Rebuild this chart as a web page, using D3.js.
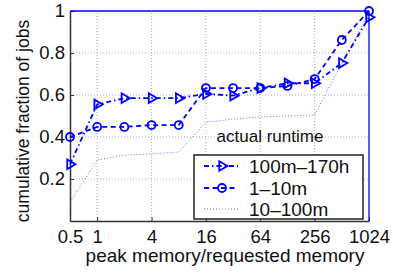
<!DOCTYPE html>
<html>
<head>
<meta charset="utf-8">
<script src="https://cdn.jsdelivr.net/npm/d3@7"></script>
<style>
  body { margin: 0; background: #fff; }
  svg { display: block; font-family: "Liberation Sans", Arial, sans-serif; }
</style>
</head>
<body>
<svg id="chart"></svg>
<script>
// peak memory / requested memory ratios (log2 axis)
const ratios = [0.5, 1, 2, 4, 8, 16, 32, 64, 128, 256, 512, 1024];
const xTicks = [0.5, 1, 4, 16, 64, 256, 1024];
const yTicks = [0.2, 0.4, 0.6, 0.8, 1];

// cumulative fraction of jobs per runtime class
const long = [0.27, 0.555, 0.585, 0.585, 0.585, 0.605, 0.597, 0.633, 0.656, 0.656, 0.752, 0.97];
const short = [0.40, 0.448, 0.448, 0.457, 0.457, 0.633, 0.633, 0.633, 0.643, 0.676, 0.862, 1.0];
const medium = [0.09, 0.29, 0.314, 0.32, 0.328, 0.47, 0.485, 0.495, 0.50, 0.505, 0.75, 0.99];

const seriesNames = ['100m\u2013170h', '1\u201310m', '10\u2013100m'];

function makeChart() {
	let w = 393;
	let h = 274;
	let m = {left: 70, right: 24, top: 11, bottom: 53};

	let svg = d3.select('#chart')
		.attr('width', w)
		.attr('height', h);

	let x = d3.scaleLog().base(2)
		.domain([0.5, 1024])
		.range([m.left, w - m.right]);
	let y = d3.scaleLinear()
		.domain([0, 1])
		.range([h - m.bottom, m.top]);

	// dotted grid
	svg.append('g').selectAll('line')
		.data(xTicks.slice(1, -1))
		.enter().append('line')
		.attr('x1', d => x(d)).attr('x2', d => x(d))
		.attr('y1', y(0)).attr('y2', y(1))
		.style('stroke', '#aaa').style('stroke-dasharray', '1,2');
	svg.append('g').selectAll('line')
		.data(yTicks.slice(0, -1))
		.enter().append('line')
		.attr('x1', x(0.5)).attr('x2', x(1024))
		.attr('y1', d => y(d)).attr('y2', d => y(d))
		.style('stroke', '#aaa').style('stroke-dasharray', '1,2');

	// axes
	let xAxis = svg.append('g')
		.attr('transform', `translate(0,${y(0)})`)
		.call(d3.axisBottom(x).tickValues(xTicks).tickFormat(d3.format('')).tickSizeInner(-4).tickSizeOuter(0).tickPadding(9));
	let yAxis = svg.append('g')
		.attr('transform', `translate(${x(0.5)},0)`)
		.call(d3.axisLeft(y).tickValues(yTicks).tickFormat(d => d === 1 ? '1' : d3.format('.1f')(d)).tickSizeInner(-4).tickSizeOuter(0).tickPadding(5));
	[xAxis, yAxis].forEach(a => {
		a.select('.domain').style('stroke', '#333').style('stroke-width', 1.5);
		a.selectAll('.tick line').style('stroke', '#333');
		a.selectAll('text').style('font-size', '18.5px').style('fill', '#111').style('font-family', '"Liberation Sans", Arial, sans-serif');
	});

	// blue top and right frame
	svg.append('line')
		.attr('x1', x(0.5)).attr('x2', x(1024)).attr('y1', y(1)).attr('y2', y(1))
		.style('stroke', '#0000ff').style('stroke-width', 1.3);
	svg.append('line')
		.attr('x1', x(1024)).attr('x2', x(1024)).attr('y1', y(1)).attr('y2', y(0))
		.style('stroke', '#0000ff').style('stroke-width', 1.3);

	let line = d3.line()
		.x((d, i) => x(ratios[i]))
		.y(d => y(d));

	// 10-100m dotted
	svg.append('path')
		.attr('d', line(medium))
		.style('fill', 'none').style('stroke', '#6b6bff').style('stroke-width', 1)
		.style('stroke-dasharray', '1,2');

	// 1-10m dashed with circles
	svg.append('path')
		.attr('d', line(short))
		.style('fill', 'none').style('stroke', '#0000ff').style('stroke-width', 1.8)
		.style('stroke-dasharray', '5,3.5');
	svg.append('g').selectAll('circle')
		.data(short)
		.enter().append('circle')
		.attr('cx', (d, i) => x(ratios[i]))
		.attr('cy', d => y(d))
		.attr('r', 4)
		.style('fill', 'none').style('stroke', '#0000ff').style('stroke-width', 1.8);

	// 100m-170h dash-dot with triangles
	svg.append('path')
		.attr('d', line(long))
		.style('fill', 'none').style('stroke', '#0000ff').style('stroke-width', 1.8)
		.style('stroke-dasharray', '5,3,1.5,3');
	let tri = d3.symbol().type(d3.symbolTriangle).size(40);
	svg.append('g').selectAll('path')
		.data(long)
		.enter().append('path')
		.attr('d', tri)
		.attr('transform', (d, i) => `translate(${x(ratios[i])},${y(d)}) rotate(90)`)
		.style('fill', 'none').style('stroke', '#0000ff').style('stroke-width', 1.8);

	// axis labels
	svg.append('text')
		.attr('x', 225).attr('y', 262)
		.attr('text-anchor', 'middle')
		.style('font-size', '19px').style('fill', '#111')
		.text('peak memory/requested memory');
	svg.append('text')
		.attr('transform', 'translate(29,121) rotate(-90)')
		.attr('text-anchor', 'middle')
		.style('font-size', '17.5px').style('fill', '#111')
		.text('cumulative fraction of jobs');

	// legend
	svg.append('text')
		.attr('x', 270).attr('y', 142)
		.attr('text-anchor', 'middle')
		.style('font-size', '17px').style('fill', '#111')
		.text('actual runtime');

	let lg = svg.append('g');
	lg.append('rect')
		.attr('x', 194).attr('y', 155).attr('width', 169).attr('height', 64)
		.style('fill', '#fff').style('stroke', '#222').style('stroke-width', 1.5);
	let rows = [166, 188, 209];
	let dashes = ['5,3,1.5,3', '5,3.5', '1,2'];
	let widths = [1.8, 1.8, 1];
	let colors = ['#0000ff', '#0000ff', '#6b6bff'];
	rows.forEach((ry, i) => {
		lg.append('line')
			.attr('x1', 204).attr('x2', 238).attr('y1', ry).attr('y2', ry)
			.style('stroke', colors[i]).style('stroke-width', widths[i])
			.style('stroke-dasharray', dashes[i]);
		if (i === 0) {
			lg.append('path').attr('d', tri)
				.attr('transform', `translate(222,${ry}) rotate(90)`)
				.style('fill', 'none').style('stroke', '#0000ff').style('stroke-width', 1.8);
		} else if (i === 1) {
			lg.append('circle').attr('cx', 222).attr('cy', ry).attr('r', 4)
				.style('fill', 'none').style('stroke', '#0000ff').style('stroke-width', 1.8);
		}
		lg.append('text')
			.attr('x', 249).attr('y', ry + 6.5)
			.style('font-size', '19px').style('fill', '#111')
			.text(seriesNames[i]);
	});
}

window.onload = function () {
	makeChart();
}
</script>
</body>
</html>
